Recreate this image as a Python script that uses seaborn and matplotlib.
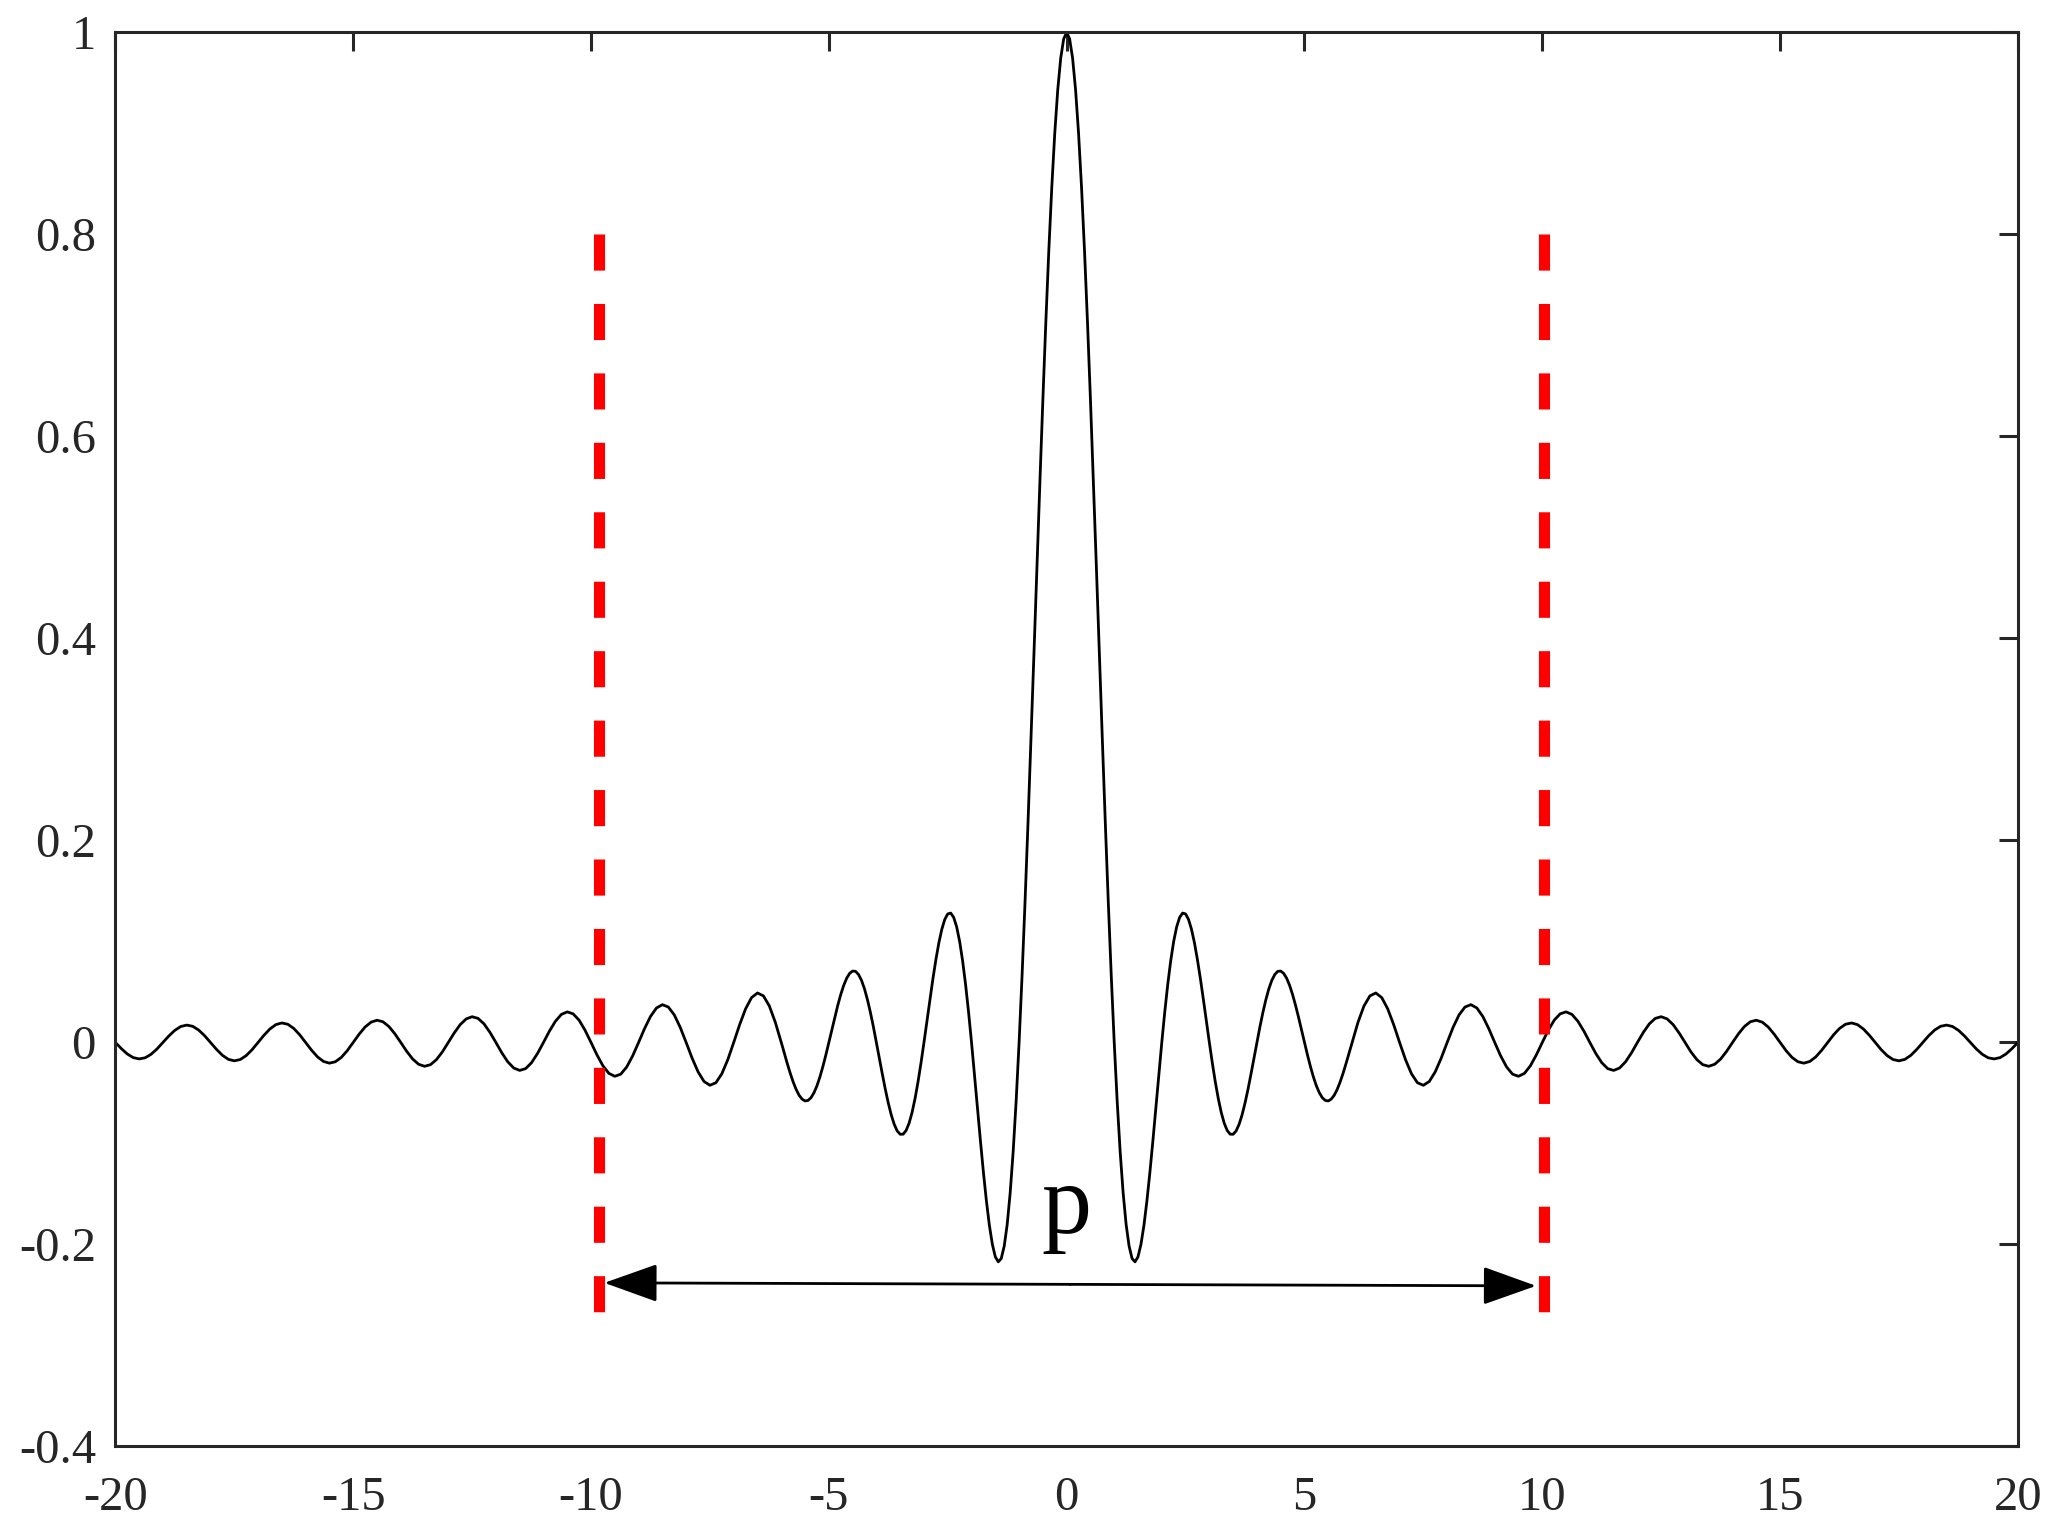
import numpy as np
import pandas as pd
import matplotlib
matplotlib.use("Agg")
import matplotlib.pyplot as plt
import seaborn as sns

# ---- data ----
# The curve is symmetric about x = 0.  Right half:
#  - fine part, sampled every 1/16 on x in [0, 6]
#  - coarse part, sampled every 1/8 on x in (6, 20]
fine_step = 0.0625
y_fine = [
    1.0, 0.9936, 0.9745, 0.9432, 0.9003, 0.8469, 0.7842, 0.7136,
    0.6366, 0.5550, 0.4705, 0.3850, 0.3001, 0.2177, 0.1392, 0.0662,
    0.0, -0.0584, -0.1083, -0.1489, -0.1801, -0.2016, -0.2139, -0.2172,
    -0.2122, -0.1998, -0.1810, -0.1568, -0.1286, -0.0976, -0.0650, -0.0321,
    0.0, 0.0301, 0.0573, 0.0808, 0.1000, 0.1144, 0.1238, 0.1281,
    0.1273, 0.1218, 0.1120, 0.0985, 0.0818, 0.0629, 0.0424, 0.0211,
    0.0, -0.0203, -0.0390, -0.0555, -0.0693, -0.0799, -0.0871, -0.0908,
    -0.0909, -0.0876, -0.0811, -0.0718, -0.0600, -0.0464, -0.0314, -0.0158,
    0.0, 0.0153, 0.0295, 0.0422, 0.0530, 0.0614, 0.0672, 0.0704,
    0.0707, 0.0684, 0.0636, 0.0565, 0.0474, 0.0367, 0.0250, 0.0126,
    0.0, -0.0123, -0.0238, -0.0341, -0.0429, -0.0498, -0.0547, -0.0574,
    -0.0579, -0.0561, -0.0523, -0.0465, -0.0391, -0.0304, -0.0207, -0.0105,
    0.0,
]
coarse_step = 0.125
y_coarse = [
    0.0199, 0.0360, 0.0461, 0.0490, 0.0444, 0.0333, 0.0177,
    0.0, -0.0171, -0.0310, -0.0399, -0.0424, -0.0386, -0.0290, -0.0155,
    0.0, 0.0150, 0.0273, 0.0351, 0.0374, 0.0341, 0.0257, 0.0137,
    0.0, -0.0133, -0.0243, -0.0314, -0.0335, -0.0306, -0.0231, -0.0123,
    0.0, 0.0120, 0.0220, 0.0283, 0.0303, 0.0277, 0.0209, 0.0112,
    0.0, -0.0109, -0.0200, -0.0259, -0.0277, -0.0253, -0.0192, -0.0103,
    0.0, 0.0100, 0.0184, 0.0238, 0.0255, 0.0233, 0.0177, 0.0095,
    0.0, -0.0093, -0.0170, -0.0220, -0.0236, -0.0216, -0.0164, -0.0088,
    0.0, 0.0086, 0.0158, 0.0205, 0.0220, 0.0201, 0.0153, 0.0082,
    0.0, -0.0081, -0.0148, -0.0191, -0.0205, -0.0188, -0.0143, -0.0077,
    0.0, 0.0076, 0.0139, 0.0180, 0.0193, 0.0177, 0.0134, 0.0072,
    0.0, -0.0071, -0.0130, -0.0169, -0.0182, -0.0167, -0.0127, -0.0068,
    0.0, 0.0067, 0.0123, 0.0160, 0.0172, 0.0158, 0.0120, 0.0065,
    0.0, -0.0064, -0.0117, -0.0152, -0.0163, -0.0150, -0.0114, -0.0061,
    0.0,
]

red_x = [-9.84, 10.03]          # dashed red markers
red_y = [0.80, -0.27]           # top, bottom of the dashed markers
arrow_left = (-9.72, -0.238)
arrow_right = (9.87, -0.241)
label_text = "p"
label_pos = (0.0, -0.189)

x_ticks = [-20, -15, -10, -5, 0, 5, 10, 15, 20]
x_ticklabels = ["-20", "-15", "-10", "-5", "0", "5", "10", "15", "20"]
y_ticks = [-0.4, -0.2, 0, 0.2, 0.4, 0.6, 0.8, 1]
y_ticklabels = ["-0.4", "-0.2", "0", "0.2", "0.4", "0.6", "0.8", "1"]

# ---- build table ----
x_fine = np.arange(len(y_fine)) * fine_step
x_coarse = x_fine[-1] + (np.arange(len(y_coarse)) + 1) * coarse_step
x_right = np.concatenate([x_fine, x_coarse])
y_right = np.concatenate([np.array(y_fine), np.array(y_coarse)])
x_all = np.concatenate([-x_right[::-1], x_right[1:]])
y_all = np.concatenate([y_right[::-1], y_right[1:]])
df = pd.DataFrame({"x": x_all, "y": y_all})

# ---- style ----
sns.set_theme(style="white")
plt.rcParams["font.family"] = ["Liberation Serif", "DejaVu Serif"]
plt.rcParams["axes.unicode_minus"] = False
plt.rcParams["lines.scale_dashes"] = False
spine_col = "#262626"

fig = plt.figure(figsize=(20.57, 15.30), dpi=100)
ax = fig.add_axes([0.0561, 0.0546, 0.981 - 0.0561, 0.9788 - 0.0546])

sns.lineplot(data=df, x="x", y="y", ax=ax, color="black", linewidth=2.0,
             estimator=None, sort=False)

for xv in red_x:
    ax.plot([xv, xv], red_y, color="#ff0000", linewidth=8.0,
            linestyle=(0, (26.0, 24.0)), solid_capstyle="butt",
            dash_capstyle="butt", zorder=3)

arrowprops = dict(arrowstyle="-|>,head_length=2.8,head_width=1.0",
                  color="black", lw=2.0, shrinkA=0, shrinkB=0)
mid = ((arrow_left[0] + arrow_right[0]) / 2, (arrow_left[1] + arrow_right[1]) / 2)
ax.annotate("", xy=arrow_left, xytext=mid, arrowprops=arrowprops, zorder=4)
ax.annotate("", xy=arrow_right, xytext=mid, arrowprops=arrowprops, zorder=4)

ax.text(label_pos[0], label_pos[1], label_text, ha="center", va="baseline",
        fontsize=72, color="black")

ax.set_xlim(-20, 20)
ax.set_ylim(-0.4, 1.0)
ax.set_xticks(x_ticks)
ax.set_xticklabels(x_ticklabels)
ax.set_yticks(y_ticks)
ax.set_yticklabels(y_ticklabels)
ax.set_xlabel("")
ax.set_ylabel("")

for s in ax.spines.values():
    s.set_visible(True)
    s.set_color(spine_col)
    s.set_linewidth(2.2)

ax.tick_params(axis="both", which="major", direction="in", length=14,
               width=2.2, color=spine_col, labelcolor=spine_col,
               labelsize=35, top=True, right=True)
ax.tick_params(axis="x", pad=21)
ax.tick_params(axis="y", pad=14)

fig.savefig("out.png", dpi=100, facecolor="white")
